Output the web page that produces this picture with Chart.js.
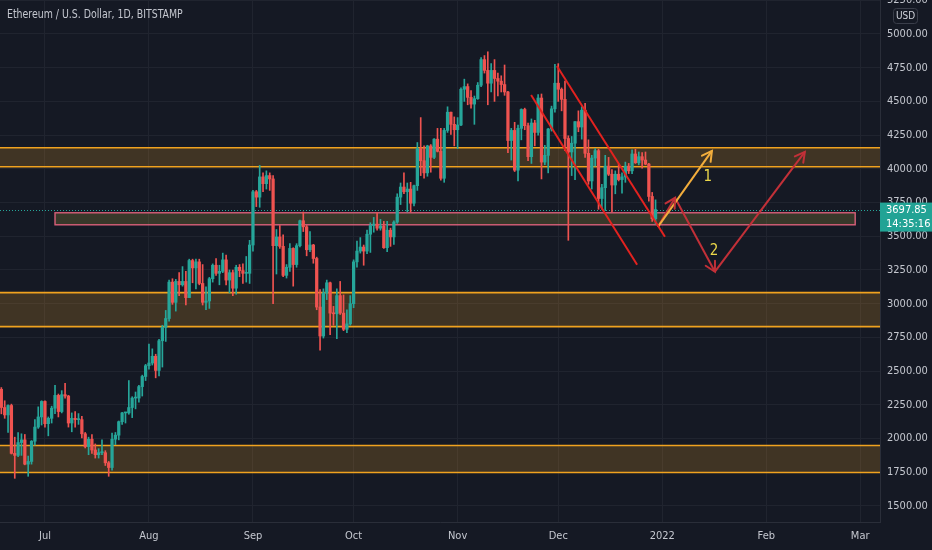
<!DOCTYPE html>
<html><head><meta charset="utf-8">
<script src="https://cdn.jsdelivr.net/npm/chart.js@4.4.1/dist/chart.umd.min.js"></script>
<style>html,body{margin:0;padding:0;background:#151924;}#wrap{width:932px;height:550px;position:relative}</style>
</head><body><div id="wrap"><canvas id="c"></canvas></div>
<script>
// ---- DATA (day 0 = 2021-06-17, daily candles to 2021-12-30) ----
const opens = [
2372,2365,2230,2175,2245,1890,1875,1970,1990,1810,1830,1980,2085,2160,
2275,2110,2150,2225,2320,2200,2325,2315,2115,2150,2140,2140,2035,1940,1995,1915,1880,1895,1895,1820,1785,1995,2025,2125,2190,2190,2230,2300,2300,2385,2460,
2540,2560,2610,2505,2725,2825,2890,3160,3010,3165,3140,3165,3045,3320,3265,3310,3150,3010,3020,3185,3285,3225,3240,3325,3175,3230,3115,3270,3245,3225,3225,
3435,3830,3790,3940,3890,3950,3925,3430,3495,3425,3210,3270,3410,3290,3430,3615,3570,3400,3435,3335,2975,2760,3080,3155,2930,2925,3060,2930,2810,2850,
3000,3310,3390,3420,3390,3515,3580,3590,3560,3575,3415,3545,3495,3605,3790,3865,3830,3850,3745,3875,4150,4060,3970,4170,4085,4220,4130,3930,4285,4420,4330,
4290,4325,4590,4610,4530,4480,4520,4620,4810,4730,4635,4730,4670,4650,4625,4570,4210,4285,3990,4300,4440,4320,4090,4340,4270,4525,4050,4100,4295,4445,
4635,4590,4515,4225,4125,4190,4350,4310,4435,4115,3910,4080,4135,3780,3860,4020,3960,3880,3960,3920,3940,4020,3985,4110,4045,4090,4065,4035,3795,3630];
const highs = [
2452,2378,2280,2250,2255,2010,2045,2035,2030,1870,1985,2140,2235,2280,
2280,2160,2240,2395,2330,2355,2410,2320,2190,2200,2185,2165,2045,2010,2030,1960,1925,1990,1910,1830,2040,2045,2130,2195,2195,2430,2310,2345,2395,2470,2550,
2700,2665,2625,2735,2840,2950,3175,3185,3180,3230,3275,3240,3330,3330,3330,3330,3290,3125,3195,3295,3335,3285,3375,3360,3250,3250,3285,3290,3295,3350,3470,
3840,3840,4025,3970,3985,3970,3950,3550,3580,3510,3290,3445,3415,3445,3620,3680,3580,3535,3440,3345,3105,3110,3175,3160,2980,3110,3165,3065,2955,3060,
3325,3465,3490,3435,3545,3600,3640,3675,3625,3610,3610,3560,3615,3815,3895,3970,3895,3900,3880,4195,4380,4170,4175,4180,4225,4300,4300,4300,4460,4420,4385,
4380,4600,4665,4630,4580,4540,4640,4825,4840,4868,4780,4810,4710,4690,4770,4575,4300,4345,4325,4445,4450,4340,4370,4360,4550,4555,4175,4300,4465,4775,
4780,4600,4650,4245,4240,4350,4430,4460,4485,4215,4100,4150,4145,3885,4100,4085,3995,3985,4035,3970,4050,4040,4140,4145,4125,4120,4125,4040,3825,3770];
const lows = [
2313,2183,2150,2045,1885,1705,1865,1875,1805,1720,1810,1950,2075,2100,
2085,2020,2115,2185,2160,2190,2300,2085,2050,2085,2105,2005,1930,1880,1890,1855,1855,1880,1800,1720,1765,1955,1990,2105,2115,2180,2155,2220,2270,2315,2430,
2515,2545,2450,2465,2530,2720,2870,2995,2945,3060,3130,2990,3045,3155,3110,3140,2990,2955,2965,3160,3210,3140,3230,3140,3080,3060,3070,3200,3150,3160,3150,
3390,3720,3715,3830,3850,3840,3000,3220,3410,3200,3190,3240,3130,3270,3420,3535,3355,3385,3300,2955,2655,2745,3030,2770,2840,2740,2920,2800,2785,2840,
2970,3270,3375,3285,3370,3380,3530,3545,3545,3410,3385,3425,3440,3595,3735,3815,3680,3680,3725,3840,3950,3930,3945,3975,4075,4125,3915,3900,4270,4255,4170,
4150,4320,4500,4475,4450,4330,4515,4610,4710,4475,4570,4500,4540,4570,4545,4120,4065,3980,3910,4215,4290,4060,4040,4170,4250,3925,4030,3970,4280,4420,
4500,4430,4135,3470,3950,3920,4275,4220,4085,3885,3850,4020,3700,3700,3690,3950,3680,3815,3910,3820,3900,3965,3965,4040,4030,4005,4030,3760,3610,3590];
const closes = [
2365,2230,2175,2245,1890,1875,1970,1990,1810,1830,1980,2085,2160,2275,
2110,2150,2225,2320,2200,2325,2315,2115,2150,2140,2140,2035,1940,1995,1915,1880,1895,1895,1820,1785,1995,2025,2125,2190,2190,2230,2300,2300,2385,2460,2540,
2560,2610,2505,2725,2825,2890,3160,3010,3165,3140,3165,3045,3320,3265,3310,3150,3010,3020,3185,3285,3225,3240,3325,3175,3230,3115,3270,3245,3225,3225,3435,
3830,3790,3940,3890,3950,3925,3430,3495,3425,3210,3270,3410,3290,3430,3615,3570,3400,3435,3335,2975,2760,3080,3155,2930,2925,3060,2930,2810,2850,3000,
3310,3390,3420,3390,3515,3580,3590,3560,3575,3415,3545,3495,3605,3790,3865,3830,3850,3745,3875,4150,4060,3970,4170,4085,4220,4130,3930,4285,4420,4330,4290,
4325,4590,4610,4530,4480,4520,4620,4810,4730,4635,4730,4670,4650,4625,4570,4210,4285,3990,4300,4440,4320,4090,4340,4270,4525,4050,4100,4295,4445,4635,
4590,4515,4225,4125,4190,4350,4310,4435,4115,3910,4080,4135,3780,3860,4020,3960,3880,3960,3920,3940,4020,3985,4110,4045,4090,4065,4035,3795,3630,3698];

const monthTicks  = [14, 45, 76, 106, 137, 167, 198, 229, 257];
const monthLabels = ['Jul','Aug','Sep','Oct','Nov','Dec','2022','Feb','Mar'];
const priceTicks  = [1500,1750,2000,2250,2500,2750,3000,3250,3500,3750,4000,4250,4500,4750,5000,5250];

// horizontal support/resistance zones [low, high]
const zoneLows  = [4015, 2830, 1748];
const zoneHighs = [4156, 3082, 1948];
// pink zone
const pinkZoneDays   = [17, 255.5];
const pinkZonePrices = [3585, 3674];

const lastPrice = 3697.85;
const lastPriceText = '3697.85';
const countdownText = '14:35:16';
const titleText = 'Ethereum / U.S. Dollar, 1D, BITSTAMP';

// drawings [day, price]
const channelUpper = [[166.6, 4763], [198.8, 3496]];
const channelLower = [[158.9, 4548], [190.5, 3289]];
const arrowOne     = [[196.7, 3570], [212.8, 4133]];
const arrowTwoA    = [[196.7, 3570], [201.8, 3785]];
const arrowTwoB    = [[201.8, 3785], [213.7, 3237]];
const arrowTwoC    = [[213.7, 3237], [240.5, 4126]];
const labelTexts   = ['1', '2'];
const labelDays    = [211.6, 213.4];
const labelPrices  = [3941, 3393];

// ---- CHART ----
const FONT = "'Liberation Sans Narrow','DejaVu Sans Condensed','Liberation Sans',sans-serif";
const UP = '#26a69a', DOWN = '#ef5350';
const candleColors = closes.map((c, i) => c >= opens[i] ? UP : DOWN);

const wickData = lows.map((l, i) => ({x: i, y: [l, highs[i]]}));
const bodyData = opens.map((o, i) => ({x: i, y: [o, closes[i]]}));
const toXY = arr => arr.map(p => ({x: p[0], y: p[1]}));

function lineDs(arr, color, arrow) {
  return {type: 'line', data: toXY(arr), borderColor: color, borderWidth: 2,
    pointRadius: 0, fill: false, tension: 0, order: 0, arrowHead: arrow};
}

const bgPlugin = {
  id: 'bg',
  beforeDraw(chart) {
    const c = chart.ctx; c.save(); c.fillStyle = '#151924';
    c.fillRect(0, 0, chart.width, chart.height); c.restore();
  },
  beforeDatasetsDraw(chart) {
    const {ctx, chartArea: a, scales: {x, y}} = chart;
    ctx.save();
    ctx.beginPath(); ctx.rect(a.left, a.top, a.right - a.left, a.bottom - a.top); ctx.clip();
    for (let i = 0; i < zoneLows.length; i++) {
      const yt = y.getPixelForValue(zoneHighs[i]), yb = y.getPixelForValue(zoneLows[i]);
      ctx.fillStyle = 'rgba(242,162,40,0.2)';
      ctx.fillRect(a.left, yt, a.right - a.left, yb - yt);
      ctx.strokeStyle = '#f0a21f'; ctx.lineWidth = 1.6;
      ctx.beginPath(); ctx.moveTo(a.left, yt); ctx.lineTo(a.right, yt);
      ctx.moveTo(a.left, yb); ctx.lineTo(a.right, yb); ctx.stroke();
    }
    const px1 = x.getPixelForValue(pinkZoneDays[0]), px2 = x.getPixelForValue(pinkZoneDays[1]);
    const pyt = y.getPixelForValue(pinkZonePrices[1]), pyb = y.getPixelForValue(pinkZonePrices[0]);
    ctx.fillStyle = 'rgba(200,180,70,0.2)';
    ctx.fillRect(px1, pyt, px2 - px1, pyb - pyt);
    ctx.strokeStyle = '#d9607a'; ctx.lineWidth = 1.4;
    ctx.strokeRect(px1, pyt, px2 - px1, pyb - pyt);
    // last price dotted line
    const lp = Math.round(y.getPixelForValue(lastPrice)) + 0.5;
    ctx.strokeStyle = UP; ctx.lineWidth = 1; ctx.setLineDash([1, 2]);
    ctx.beginPath(); ctx.moveTo(a.left, lp); ctx.lineTo(a.right, lp); ctx.stroke();
    ctx.restore();
  },
  afterDatasetsDraw(chart) {
    const {ctx, scales: {x, y}} = chart;
    ctx.save();
    chart.data.datasets.forEach((ds, i) => {
      if (!ds.arrowHead) return;
      const pts = chart.getDatasetMeta(i).data;
      const p1 = pts[pts.length - 2], p2 = pts[pts.length - 1];
      const ang = Math.atan2(p2.y - p1.y, p2.x - p1.x);
      const L = 11, sp = 0.5;
      ctx.strokeStyle = ds.borderColor; ctx.lineWidth = 2; ctx.lineCap = 'round';
      ctx.beginPath();
      ctx.moveTo(p2.x - L * Math.cos(ang - sp), p2.y - L * Math.sin(ang - sp));
      ctx.lineTo(p2.x, p2.y);
      ctx.lineTo(p2.x - L * Math.cos(ang + sp), p2.y - L * Math.sin(ang + sp));
      ctx.stroke();
    });
    ctx.fillStyle = '#ecd84a'; ctx.font = '15px ' + FONT;
    ctx.textAlign = 'center'; ctx.textBaseline = 'middle';
    labelTexts.forEach((t, i) => ctx.fillText(t, x.getPixelForValue(labelDays[i]), y.getPixelForValue(labelPrices[i])));
    ctx.restore();
  },
  afterDraw(chart) {
    const {ctx, chartArea: a, scales: {y}} = chart;
    ctx.save();
    // title (slightly condensed like the reference font)
    ctx.save();
    ctx.translate(7, 15); ctx.scale(0.87, 1);
    ctx.fillStyle = '#c4c7cf'; ctx.font = '12px ' + FONT;
    ctx.textAlign = 'left'; ctx.textBaseline = 'middle';
    ctx.fillText(titleText, 0, 0);
    ctx.restore();
    // USD box
    ctx.fillStyle = '#151924'; ctx.strokeStyle = '#3a3e4a'; ctx.lineWidth = 1;
    ctx.beginPath(); ctx.roundRect(893.5, 8.5, 24, 15, 3); ctx.fill(); ctx.stroke();
    ctx.fillStyle = '#d1d4dc'; ctx.font = '10px ' + FONT; ctx.textAlign = 'center'; ctx.textBaseline = 'middle';
    ctx.fillText('USD', 905.5, 16.5);
    // last price label
    const lp = y.getPixelForValue(lastPrice);
    ctx.fillStyle = '#22a395';
    ctx.fillRect(a.right, lp - 7, chart.width - a.right, 29);
    ctx.fillStyle = '#ffffff'; ctx.font = '11px ' + FONT; ctx.textAlign = 'left';
    ctx.fillText(lastPriceText, a.right + 6, lp + 0.5);
    ctx.fillText(countdownText, a.right + 6, lp + 14.5);
    ctx.restore();
  }
};

new Chart(document.getElementById('c'), {
  type: 'bar',
  data: {
    datasets: [
      lineDs(channelUpper, '#e3221f', false),
      lineDs(channelLower, '#e3221f', false),
      lineDs(arrowOne, '#f2ad3c', true),
      lineDs(arrowTwoA, '#c23038', true),
      lineDs(arrowTwoB, '#c23038', true),
      lineDs(arrowTwoC, '#c23038', true),
      {type: 'bar', data: bodyData, backgroundColor: candleColors, borderWidth: 0,
       barThickness: 2.6, minBarLength: 1, grouped: false, order: 1},
      {type: 'bar', data: wickData, backgroundColor: candleColors, borderWidth: 0,
       barThickness: 1, grouped: false, order: 2}
    ]
  },
  options: {
    responsive: true, maintainAspectRatio: false, animation: false,
    layout: {padding: 0},
    plugins: {legend: {display: false}, tooltip: {enabled: false}, title: {display: false}},
    scales: {
      x: {
        type: 'linear', min: 0.6, max: 262.9, offset: false,
        afterBuildTicks: s => { s.ticks = monthTicks.map(v => ({value: v})); },
        afterFit: s => { s.height = 28; s.paddingLeft = 0; s.paddingRight = 0; },
        grid: {color: '#20242f', drawTicks: false, offset: false}, border: {color: '#2a2e39'},
        ticks: {color: '#c4c7cf', font: {family: FONT, size: 11}, padding: 8,
          maxRotation: 0, autoSkip: false, callback: (v, i) => monthLabels[i]}
      },
      y: {
        type: 'linear', position: 'right', min: 1381, max: 5252,
        afterBuildTicks: s => { s.ticks = priceTicks.map(v => ({value: v})); },
        afterFit: s => { s.width = 52; s.paddingTop = 0; s.paddingBottom = 0; },
        grid: {color: '#20242f', drawTicks: false, offset: false}, border: {color: '#2a2e39'},
        ticks: {color: '#c4c7cf', font: {family: FONT, size: 11}, padding: 7,
          autoSkip: false, callback: v => Number(v).toFixed(2)}
      }
    }
  },
  plugins: [bgPlugin]
});
</script></body></html>
